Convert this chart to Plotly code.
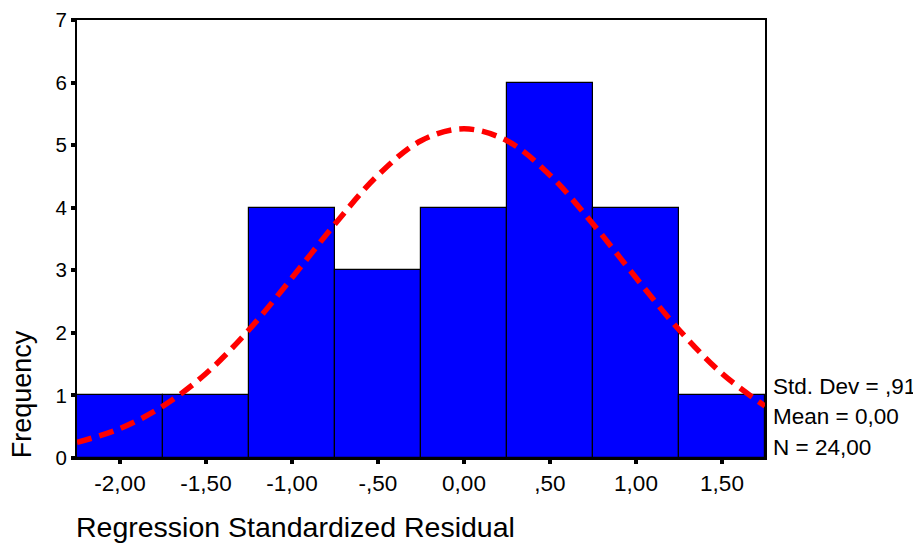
import plotly.graph_objects as go

bin_centers = [-2.0, -1.5, -1.0, -0.5, 0.0, 0.5, 1.0, 1.5]
counts = [1, 1, 4, 3, 4, 6, 4, 1]
bin_width = 0.5

curve_x = [-2.25, -2.0, -1.75, -1.5, -1.25, -1.0, -0.75, -0.5, -0.25, 0.0,
           0.25, 0.5, 0.75, 1.0, 1.25, 1.5, 1.75]
curve_y = [0.25, 0.47, 0.83, 1.35, 2.05, 2.88, 3.74, 4.52, 5.07, 5.26,
           5.07, 4.52, 3.74, 2.88, 2.05, 1.35, 0.83]

x_tickvals = [-2.0, -1.5, -1.0, -0.5, 0.0, 0.5, 1.0, 1.5]
x_ticktext = ["-2,00", "-1,50", "-1,00", "-,50", "0,00", ",50", "1,00", "1,50"]
y_tickvals = [0, 1, 2, 3, 4, 5, 6, 7]

stats_lines = ["Std. Dev = ,91", "Mean = 0,00", "N = 24,00"]

FONT = "Arial, Liberation Sans, sans-serif"

# page body has an 8px margin, so plot-area pixel targets are shifted by 8
OFF = 8
PL, PT, PR, PB = 77 - OFF, 20 - OFF, 765 - OFF, 458 - OFF
PH = PB - PT

fig = go.Figure()
fig.add_trace(go.Bar(
    x=bin_centers, y=counts, width=bin_width,
    marker=dict(color="#0000FF", line=dict(color="black", width=1.2)),
    showlegend=False,
))
fig.add_trace(go.Scatter(
    x=curve_x, y=curve_y, mode="lines",
    line=dict(color="#FF0000", width=5.5, dash="15px,8px", shape="spline"),
    showlegend=False,
))

fig.update_layout(
    width=921, height=548,
    margin=dict(l=PL, r=921 - PR, t=PT, b=548 - PB),
    paper_bgcolor="white", plot_bgcolor="white",
    font=dict(family=FONT, size=22, color="black"),
    bargap=0,
    xaxis=dict(
        range=[-2.25, 1.75], tickvals=x_tickvals, ticktext=x_ticktext,
        showline=True, linecolor="black", linewidth=2, mirror=True,
        ticks="outside", ticklen=4, tickwidth=4, tickcolor="black",
        showgrid=False, zeroline=False, tickfont=dict(size=22.5),
        automargin=False, ticklabeloverflow="allow",
    ),
    yaxis=dict(
        range=[0, 7], tickvals=y_tickvals,
        showline=True, linecolor="black", linewidth=2, mirror=True,
        ticks="outside", ticklen=4, tickwidth=4, tickcolor="black",
        showgrid=False, zeroline=False, tickfont=dict(size=20.5),
        automargin=False, ticklabeloverflow="allow",
    ),
)

fig.add_annotation(
    text="Frequency", xref="paper", yref="paper",
    x=(22 - 77) / 688, y=-0.005, xanchor="center", yanchor="bottom",
    textangle=-90, showarrow=False, font=dict(size=27),
)
fig.add_annotation(
    text="Regression Standardized Residual", xref="paper", yref="paper",
    x=-0.004, y=(458 - 527) / PH, xanchor="left", yanchor="middle",
    showarrow=False, font=dict(size=28.5),
)
for i, line in enumerate(stats_lines):
    fig.add_annotation(
        text=line, xref="paper", yref="paper",
        x=1.008, y=(458 - (386 + 30.5 * i)) / PH, xanchor="left", yanchor="middle",
        showarrow=False, font=dict(size=22.5),
    )

fig.write_html("out.html")
